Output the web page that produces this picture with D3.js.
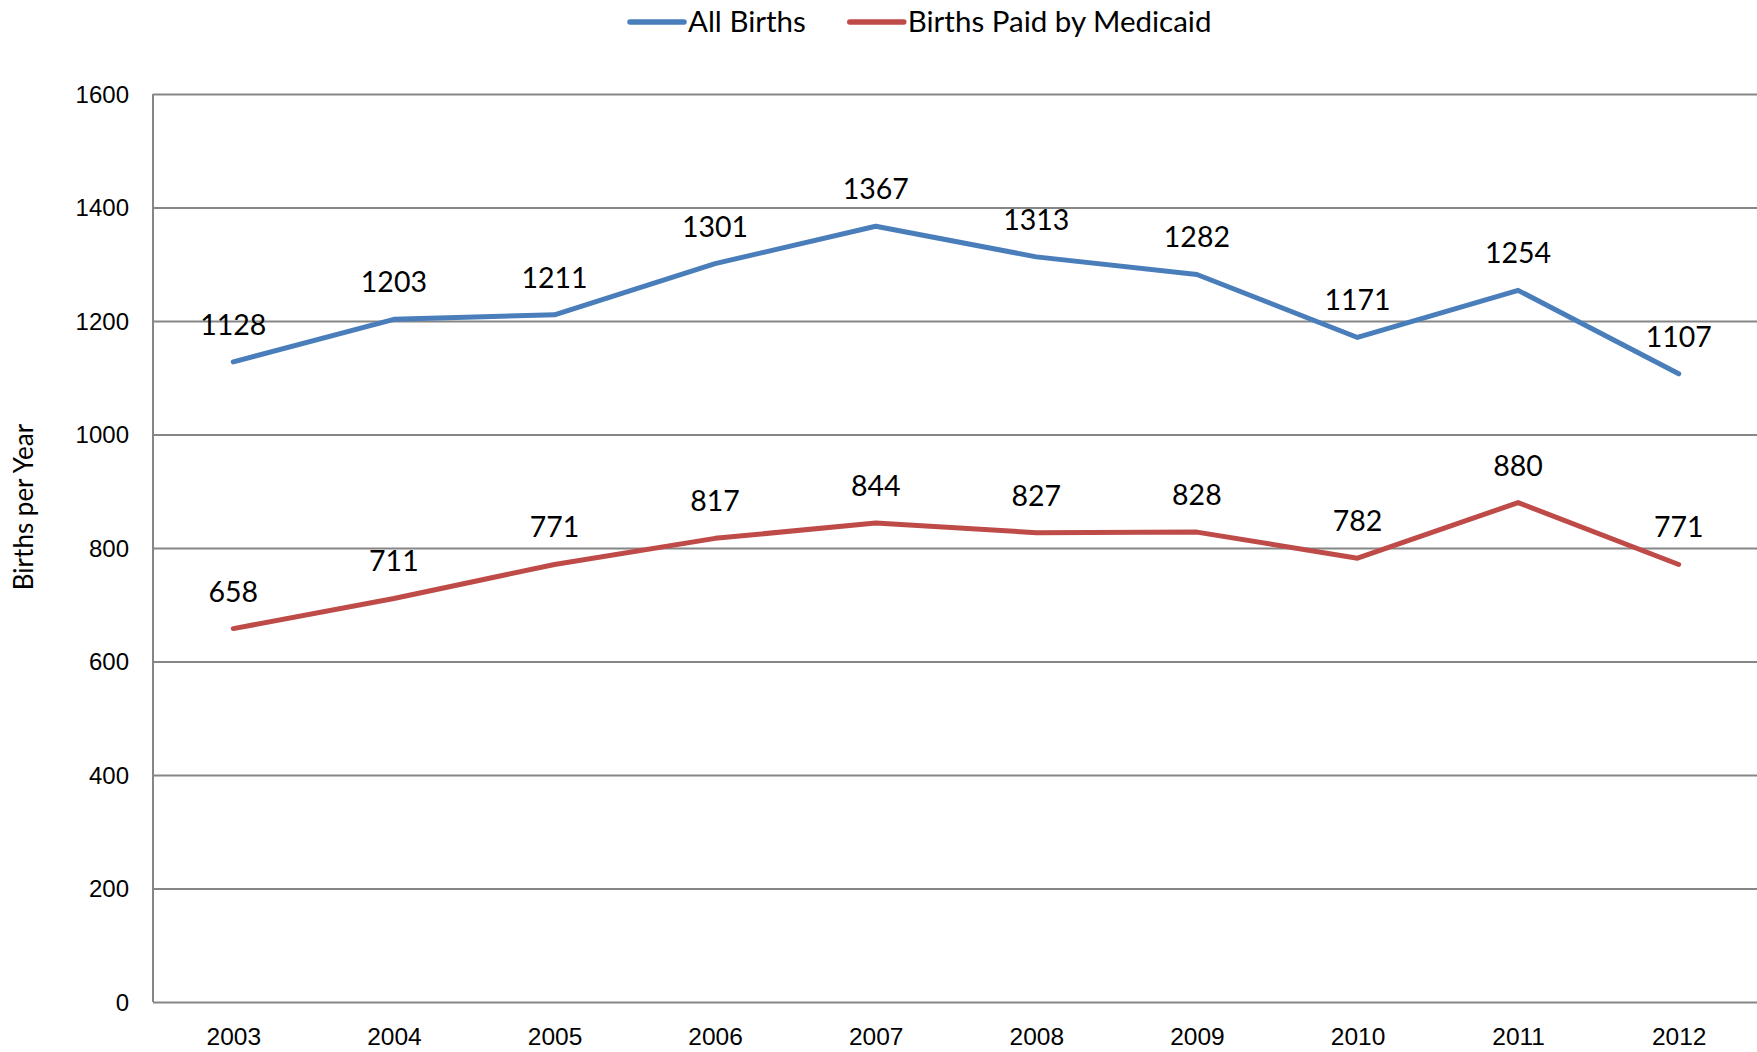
<!DOCTYPE html>
<html lang="en">
<head>
<meta charset="UTF-8">
<script src="https://d3js.org/d3.v7.min.js"></script>
<title>Births per Year</title>
<style>
  body { margin: 0; background: #fff; }
  svg { display: block; font-family: Lato, "Open Sans", sans-serif; }
  .grid line { stroke: #868686; stroke-width: 2; }
  .grid .domain { display: none; }
  .tick text { fill: #000; }
</style>
</head>
<body>
<svg width="1757" height="1052"></svg>
<script>
const years = ["2003","2004","2005","2006","2007","2008","2009","2010","2011","2012"];
const allBirths = [1128, 1203, 1211, 1301, 1367, 1313, 1282, 1171, 1254, 1107];
const medicaidBirths = [658, 711, 771, 817, 844, 827, 828, 782, 880, 771];
const yTicks = [0, 200, 400, 600, 800, 1000, 1200, 1400, 1600];
const seriesNames = ["All Births", "Births Paid by Medicaid"];
const seriesColors = ["#4A7EBB", "#BE4B48"];

const svg = d3.select("svg");
const plotL = 153, plotR = 1759, plotT = 94, plotB = 1002;

const x = d3.scalePoint().domain(years).range([plotL, plotR]).padding(0.5);
const y = d3.scaleLinear().domain([0, 1600]).range([plotB, plotT]);

// horizontal gridlines + y labels
const yAxis = svg.append("g")
  .attr("class", "grid")
  .attr("transform", `translate(${plotL},0)`)
  .call(d3.axisLeft(y).tickValues(yTicks).tickFormat(d3.format("d"))
    .tickSize(-(1757 - plotL)).tickPadding(24));
yAxis.selectAll(".tick text").attr("font-size", 24).attr("dy", "0.35em");

// left axis line
svg.append("line")
  .attr("x1", plotL).attr("x2", plotL).attr("y1", plotT).attr("y2", plotB)
  .attr("stroke", "#868686").attr("stroke-width", 2);

// x labels
const xAxis = svg.append("g")
  .attr("transform", `translate(0,${plotB})`)
  .call(d3.axisBottom(x).tickSize(0).tickPadding(26));
xAxis.select(".domain").remove();
xAxis.selectAll(".tick text").attr("font-size", 24.5);

// y title
svg.append("text")
  .attr("transform", "translate(33,507) rotate(-90)")
  .attr("text-anchor", "middle")
  .attr("font-size", 26)
  .text("Births per Year");

const series = [allBirths, medicaidBirths];
const line = d3.line().x((d, i) => x(years[i])).y(d => y(d));

series.forEach((vals, s) => {
  svg.append("path")
    .datum(vals)
    .attr("d", line)
    .attr("fill", "none")
    .attr("stroke", seriesColors[s])
    .attr("stroke-width", 5)
    .attr("stroke-linejoin", "round")
    .attr("stroke-linecap", "round");

  svg.append("g").selectAll("text")
    .data(vals)
    .join("text")
    .attr("x", (d, i) => x(years[i]))
    .attr("y", d => y(d) - 37)
    .attr("dy", "0.35em")
    .attr("text-anchor", "middle")
    .attr("font-size", 28.5)
    .text(d => d);
});

// legend
const legend = svg.append("g");
let lx = 630;
seriesNames.forEach((name, s) => {
  legend.append("line")
    .attr("x1", lx).attr("x2", lx + 54).attr("y1", 22).attr("y2", 22)
    .attr("stroke", seriesColors[s]).attr("stroke-width", 5.5).attr("stroke-linecap", "round");
  const t = legend.append("text")
    .attr("x", lx + 58).attr("y", 22).attr("dy", "0.35em")
    .attr("font-size", 29.5)
    .text(name);
  lx = lx + 58 + t.node().getComputedTextLength() + 44;
});
</script>
</body>
</html>
